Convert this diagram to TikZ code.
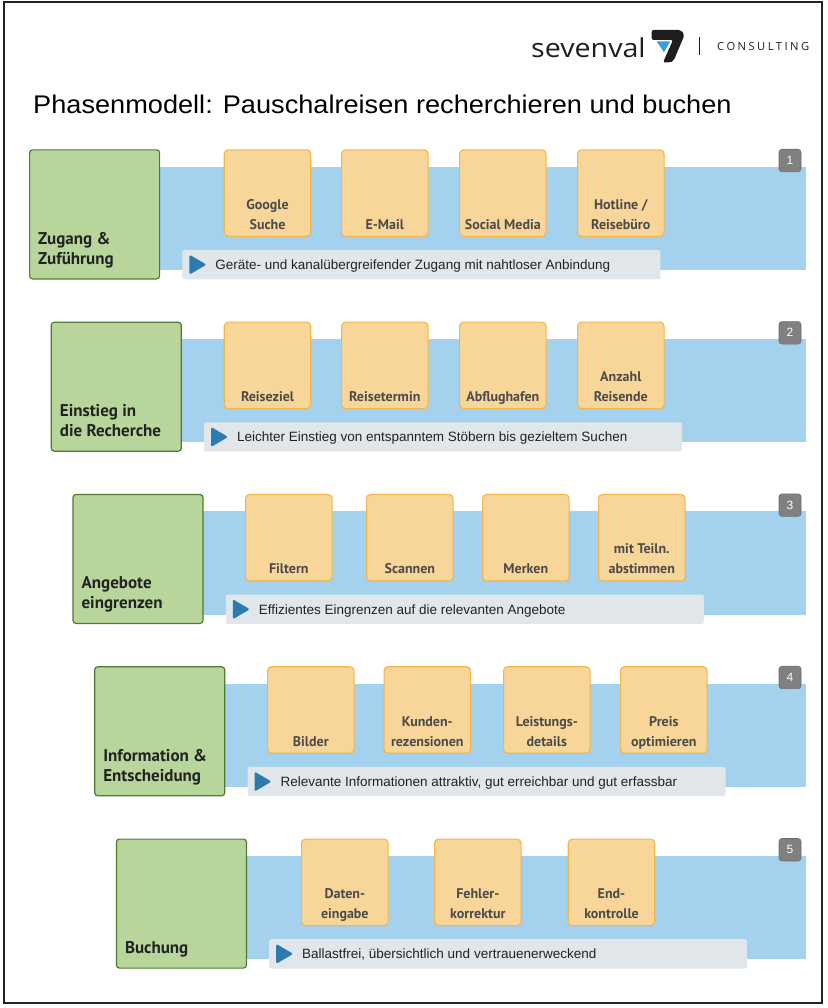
\documentclass[tikz,border=0pt]{standalone}
\usepackage{fontspec}
\setmainfont{Liberation Sans}
\newfontfamily\titlefont[FakeStretch=1.065]{Liberation Sans}
\newfontfamily\dinfont{PT Sans}
\newfontfamily\logofont[FakeStretch=1.1]{Open Sans}
\newfontfamily\capsfont[LetterSpace=22]{Open Sans}
\usetikzlibrary{positioning}
\definecolor{bandblue}{HTML}{A3D1EE}
\definecolor{phasegreen}{HTML}{B8D69B}
\definecolor{phaseline}{HTML}{4E7A35}
\definecolor{itemfill}{HTML}{F8D699}
\definecolor{itemline}{HTML}{F3B54A}
\definecolor{hintgray}{HTML}{E1E6EB}
\definecolor{tricolor}{HTML}{2B7BB0}
\definecolor{badgegray}{HTML}{808080}
\definecolor{darktext}{HTML}{222222}
\definecolor{itemtext}{HTML}{4B4B4B}
\definecolor{logoblack}{HTML}{1E1E1E}
\definecolor{logoblue}{HTML}{3C9BD8}
\tikzset{band/.style={fill=bandblue},
         phase/.style={draw=phaseline, fill=phasegreen, line width=1.2pt, rounded corners=3pt,
                       minimum width=130pt, minimum height=129pt, anchor=north west,
                       label={[phaselbl]south west:#1}},
         phaselbl/.style={anchor=south west, xshift=9pt, yshift=15pt, inner sep=0pt, text depth=0pt,
                          align=left, text=darktext, font=\dinfont\bfseries\fontsize{17}{20}\selectfont},
         item/.style={draw=itemline, fill=itemfill, line width=1.1pt, rounded corners=4pt,
                      minimum width=86.5pt, minimum height=86.5pt, anchor=north west,
                      label={[itemlbl]south:#1}},
         itemlbl/.style={anchor=south, yshift=7.5pt, inner sep=0pt, text depth=0pt,
                         align=center, text=itemtext, font=\dinfont\bfseries\fontsize{14}{20}\selectfont},
         hint/.style={fill=hintgray, rounded corners=2pt, minimum width=478pt, minimum height=29.3pt,
                      path picture={\fill[tricolor] ([xshift=7pt,yshift=10pt]path picture bounding box.west)
                          -- ([xshift=24pt]path picture bounding box.west)
                          -- ([xshift=7pt,yshift=-10pt]path picture bounding box.west) -- cycle;},
                      label={[hinttxt]west:#1}},
         hinttxt/.style={anchor=west, xshift=33pt, inner sep=0pt, text height=10pt, text depth=0pt,
                         text=darktext, font=\fontsize{13.5}{16}\selectfont},
         badge/.style={fill=badgegray, draw=badgegray!85!black, line width=0.6pt, rounded corners=3pt,
                       minimum width=22pt, minimum height=22.5pt, inner sep=0pt, text=white,
                       font=\fontsize{12}{14}\selectfont}}

\begin{document}
\begin{tikzpicture}[x=1pt, y=-1pt]
    \useasboundingbox (0,0) rectangle (827,1008);
    \draw[darktext, line width=2pt] (3.7,2.5) rectangle (822.3,1003);

    % header
    \node[anchor=base west, inner sep=0pt, text=logoblack, font=\logofont\fontsize{26}{30}\selectfont] (sevenval) at (531,57.3) {sevenval};
    \fill[logoblue] (656.7,41.5) -- (670,41.5) -- (664,52.3) -- cycle;
    \fill[logoblack, rounded corners=2pt] (651.7,30) -- (681,30) -- (684.5,35) -- (673.5,61) -- (670,62.5) -- (663,62.5) -- (673,40) -- (651.7,40) -- cycle;
    \draw[logoblack, line width=0.8pt] (699,37) -- (699,55);
    \node[anchor=base west, inner sep=0pt, text=logoblack, font=\capsfont\fontsize{11.2}{13}\selectfont] (consulting) at (717,50.7) {CONSULTING};
    \node[anchor=base west, inner sep=0pt, text=black, font=\titlefont\fontsize{25.5}{30}\selectfont] (title) at (33,114) {Phasenmodell: Pauschalreisen recherchieren und buchen};

    % phase 1
    \fill[band] (150,166.7) rectangle (805.7,270);
    \node[phase={Zugang \&\\Zuführung}] (zugang) at (29,149.3) {};
    \node[item={Google\\Suche}] (google) at (223.7,149.3) {};
    \node[item={E-Mail}] (email) at (341,149.3) {};
    \node[item={Social Media}] (social) at (459,149.3) {};
    \node[item={Hotline /\\Reisebüro}] (hotline) at (577,149.3) {};
    \node[hint={Geräte- und kanalübergreifender Zugang mit nahtloser Anbindung}, above right=0pt and 22pt of zugang.south east] (hint1) {};
    \node[badge] (num1) at (790,160.5) {1};

    % phase 2
    \fill[band] (170,339) rectangle (805.7,442.3);
    \node[phase={Einstieg in\\die Recherche}] (einstieg) at (50.7,321.6) {};
    \node[item={Reiseziel}] (reiseziel) at (223.7,321.6) {};
    \node[item={Reisetermin}] (termin) at (341,321.6) {};
    \node[item={Abflughafen}] (abflug) at (459,321.6) {};
    \node[item={Anzahl\\Reisende}] (anzahl) at (577,321.6) {};
    \node[hint={Leichter Einstieg von entspanntem Stöbern bis gezieltem Suchen}, above right=0pt and 22pt of einstieg.south east] (hint2) {};
    \node[badge] (num2) at (790,332.8) {2};

    % phase 3
    \fill[band] (192,511.3) rectangle (805.7,614.6);
    \node[phase={Angebote\\eingrenzen}] (angebote) at (72.4,493.9) {};
    \node[item={Filtern}] (filtern) at (245,493.9) {};
    \node[item={Scannen}] (scannen) at (366,493.9) {};
    \node[item={Merken}] (merken) at (482,493.9) {};
    \node[item={mit Teiln.\\abstimmen}] (teiln) at (598,493.9) {};
    \node[hint={Effizientes Eingrenzen auf die relevanten Angebote}, above right=0pt and 22pt of angebote.south east] (hint3) {};
    \node[badge] (num3) at (790,505.1) {3};

    % phase 4
    \fill[band] (214,683.6) rectangle (805.7,786.9);
    \node[phase={Information \&\\Entscheidung}] (information) at (94.1,666.2) {};
    \node[item={Bilder}] (bilder) at (267,666.2) {};
    \node[item={Kunden-\\rezensionen}] (kunden) at (383.5,666.2) {};
    \node[item={Leistungs-\\details}] (leistung) at (503,666.2) {};
    \node[item={Preis\\optimieren}] (preis) at (620,666.2) {};
    \node[hint={Relevante Informationen attraktiv, gut erreichbar und gut erfassbar}, above right=0pt and 22pt of information.south east] (hint4) {};
    \node[badge] (num4) at (790,677.4) {4};

    % phase 5
    \fill[band] (236,855.9) rectangle (805.7,959.2);
    \node[phase={Buchung}] (buchung) at (115.8,838.5) {};
    \node[item={Daten-\\eingabe}] (daten) at (301,838.5) {};
    \node[item={Fehler-\\korrektur}] (fehler) at (434,838.5) {};
    \node[item={End-\\kontrolle}] (endkontrolle) at (567.7,838.5) {};
    \node[hint={Ballastfrei, übersichtlich und vertrauenerweckend}, above right=0pt and 22pt of buchung.south east] (hint5) {};
    \node[badge] (num5) at (790,849.7) {5};
\end{tikzpicture}
\end{document}
